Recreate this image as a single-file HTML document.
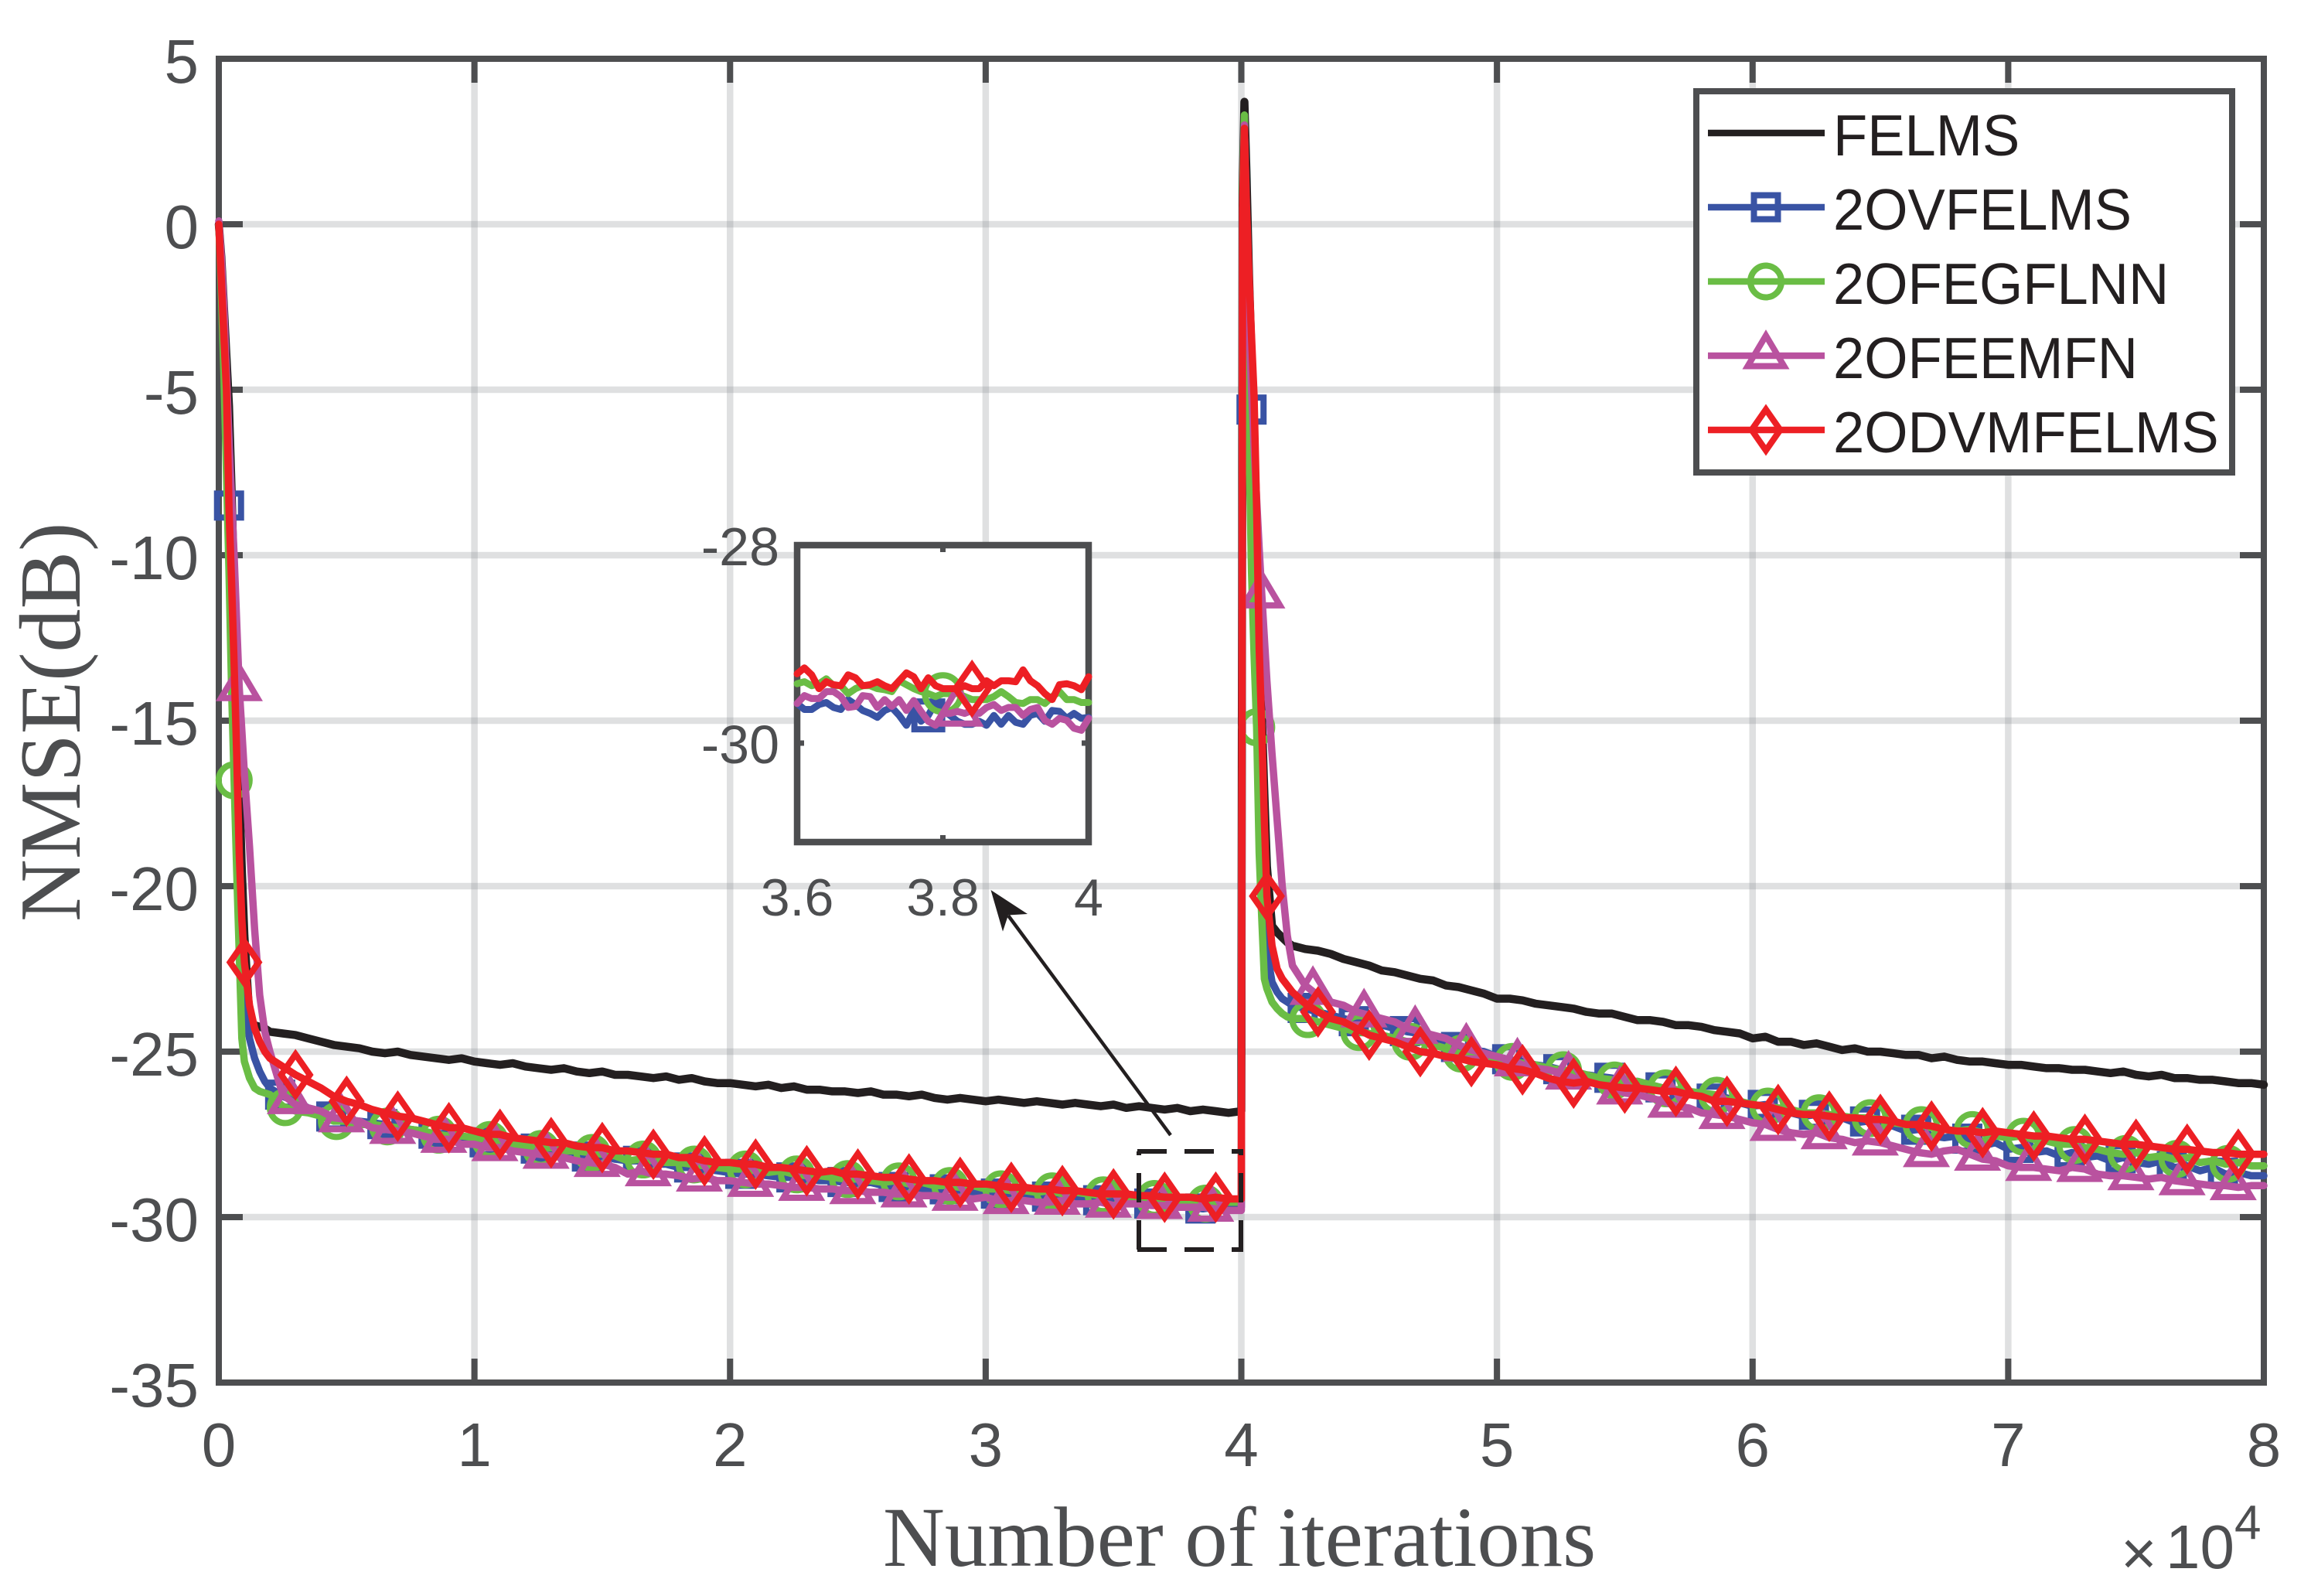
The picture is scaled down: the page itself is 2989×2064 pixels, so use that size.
<!DOCTYPE html>
<html lang="en">
<head>
<meta charset="utf-8">
<title>NMSE versus number of iterations</title>
<style>
html,body{margin:0;padding:0;background:#fff}
svg{display:block}
text{font-family:"Liberation Sans",Arial,sans-serif;fill:#4d4e50}
.serif{font-family:"Liberation Serif","Times New Roman",serif}
</style>
</head>
<body>
<svg id="chart" xmlns="http://www.w3.org/2000/svg" width="2989" height="2064" viewBox="0 0 2989 2064">
<rect x="0" y="0" width="2989" height="2064" fill="#ffffff"/>
<g id="grid"></g>
<rect x="283" y="76" width="2645" height="1712" fill="none" stroke="#4d4e50" stroke-width="8"/>
<g id="ticks"></g>
<g id="labels"></g>
<text class="serif" x="1142" y="2025" font-size="110.7">Number of iterations</text>
<text class="serif" transform="translate(103,1192) rotate(-90)" font-size="112">NMSE(dB)</text>
<g>
<text x="2743" y="2036" font-size="80">×</text>
<text x="2801" y="2028" font-size="80">10</text>
<text x="2890" y="1990" font-size="62">4</text>
</g>
<g id="series"></g>
<g id="inset"></g>
<g stroke="#231f20" stroke-width="6" stroke-dasharray="38 23" fill="none">
<line x1="1473" y1="1616" x2="1473" y2="1489"/>
<line x1="1605" y1="1616" x2="1605" y2="1489"/>
<line x1="1471" y1="1489" x2="1608" y2="1489"/>
<line x1="1471" y1="1616" x2="1608" y2="1616"/>
</g>
<g>
<line x1="1514" y1="1468" x2="1304" y2="1184" stroke="#231f20" stroke-width="4.5"/>
<polygon points="1281.5,1151 1329,1182 1304,1183.5 1297,1204.6" fill="#231f20"/>
</g>
<g id="legend"></g>
</svg>
<script>
// Shared x values, in units of 10^4 iterations
const iterations = [
0,.01,.02,.03,.04,.05,.06,.07,.08,.09,.1,.12,.14,.16,.18,.2,
.25,.3,.35,.4,.45,.5,.55,.6,.65,.7,.75,.8,.85,.9,.95,
1,1.05,1.1,1.15,1.2,1.25,1.3,1.35,1.4,1.45,1.5,1.55,1.6,1.65,1.7,
1.75,1.8,1.85,1.9,1.95,2,2.05,2.1,2.15,2.2,2.25,2.3,2.35,2.4,2.45,
2.5,2.55,2.6,2.65,2.7,2.75,2.8,2.85,2.9,2.95,3,3.05,3.1,3.15,3.2,
3.25,3.3,3.35,3.4,3.45,3.5,3.55,3.6,3.65,3.7,3.75,3.8,3.85,3.9,3.95,
4,4.005,4.012,4.02,4.03,4.04,4.05,4.06,4.07,4.08,4.09,4.1,4.12,4.14,4.16,4.18,4.2,
4.25,4.3,4.35,4.4,4.45,4.5,4.55,4.6,4.65,4.7,4.75,4.8,4.85,4.9,4.95,
5,5.05,5.1,5.15,5.2,5.25,5.3,5.35,5.4,5.45,5.5,5.55,5.6,5.65,5.7,
5.75,5.8,5.85,5.9,5.95,6,6.05,6.1,6.15,6.2,6.25,6.3,6.35,6.4,6.45,
6.5,6.55,6.6,6.65,6.7,6.75,6.8,6.85,6.9,6.95,7,7.05,7.1,7.15,7.2,
7.25,7.3,7.35,7.4,7.45,7.5,7.55,7.6,7.65,7.7,7.75,7.8,7.85,7.9,7.95,
8];

const felms = [
0,-1,-2.5,-4,-5.5,-8,-11,-14,-17,-19.5,-21.5,-24,-24.2,-24.25,-24.3,-24.4,
-24.45,-24.5,-24.6,-24.7,-24.8,-24.85,-24.9,-25,-25.05,-25,-25.1,-25.15,-25.2,-25.25,-25.2,
-25.3,-25.35,-25.4,-25.35,-25.45,-25.5,-25.55,-25.5,-25.6,-25.65,-25.6,-25.7,-25.7,-25.75,-25.8,
-25.75,-25.85,-25.8,-25.9,-25.95,-25.95,-26,-26.05,-26,-26.1,-26.05,-26.15,-26.15,-26.2,-26.2,
-26.25,-26.2,-26.3,-26.3,-26.35,-26.3,-26.4,-26.45,-26.4,-26.45,-26.5,-26.45,-26.5,-26.55,-26.5,
-26.55,-26.6,-26.55,-26.6,-26.65,-26.6,-26.7,-26.65,-26.7,-26.75,-26.7,-26.8,-26.75,-26.8,-26.85,
-26.8,1,3.7,1.6,-1.5,-4,-6.8,-9.5,-12.2,-14.8,-17.2,-19.4,-21.2,-21.4,-21.55,-21.7,-21.8,
-21.9,-21.95,-22.05,-22.2,-22.3,-22.4,-22.55,-22.6,-22.7,-22.8,-22.85,-23,-23.05,-23.15,-23.25,
-23.4,-23.4,-23.45,-23.55,-23.6,-23.65,-23.7,-23.8,-23.85,-23.85,-23.95,-24.05,-24.05,-24.1,-24.2,
-24.2,-24.25,-24.35,-24.4,-24.45,-24.6,-24.55,-24.7,-24.7,-24.8,-24.75,-24.85,-24.95,-24.9,-25,
-25,-25.05,-25.1,-25.1,-25.2,-25.15,-25.25,-25.3,-25.3,-25.35,-25.4,-25.4,-25.45,-25.5,-25.5,
-25.55,-25.55,-25.6,-25.65,-25.6,-25.7,-25.75,-25.7,-25.8,-25.8,-25.85,-25.85,-25.9,-25.95,-25.95,
-26];

const ovfelms = [
0,-1.4,-3,-5,-8.5,-11,-14,-17,-20,-22.2,-23.5,-24.6,-25.2,-25.6,-25.9,-26.1,
-26.35,-26.5,-26.7,-26.8,-27,-27.05,-27.1,-27.15,-27.2,-27.25,-27.35,-27.4,-27.5,-27.45,-27.6,
-27.7,-27.75,-27.8,-27.85,-27.85,-27.95,-28,-28,-28.05,-28.2,-28.15,-28.25,-28.3,-28.3,-28.4,
-28.4,-28.5,-28.5,-28.55,-28.6,-28.66,-28.7,-28.7,-28.75,-28.8,-28.8,-28.85,-28.9,-28.9,-28.95,
-29,-28.95,-29.05,-29.1,-29.05,-29.15,-29.2,-29.15,-29.2,-29.25,-29.25,-29.3,-29.3,-29.35,-29.3,
-29.4,-29.35,-29.45,-29.45,-29.5,-29.5,-29.55,-29.55,-29.6,-29.6,-29.65,-29.7,-29.75,-29.7,-29.7,
-29.7,0.5,3,0.5,-3,-5.6,-8.5,-12,-15.5,-18.5,-20.5,-22,-22.9,-23.2,-23.4,-23.5,-23.6,
-23.7,-23.8,-23.9,-24,-24.1,-24.15,-24.2,-24.3,-24.4,-24.45,-24.6,-24.7,-24.9,-24.95,-25,
-25.15,-25.25,-25.3,-25.4,-25.45,-25.55,-25.6,-25.7,-25.75,-25.8,-25.9,-25.9,-26,-26.1,-26.15,
-26.2,-26.3,-26.45,-26.4,-26.55,-26.65,-26.6,-26.75,-26.85,-26.95,-26.9,-27.05,-27,-27.15,-27.1,
-27.2,-27.25,-27.4,-27.35,-27.55,-27.6,-27.55,-27.65,-27.85,-27.75,-27.95,-27.9,-28.05,-28,-28.15,
-28.05,-28.2,-28.15,-28.3,-28.2,-28.35,-28.4,-28.3,-28.5,-28.45,-28.6,-28.5,-28.7,-28.65,-28.75,
-28.75];

const ofegflnn = [
0,-2,-4.5,-7.5,-10.5,-14,-16.8,-19.5,-22,-24.6,-25.3,-25.8,-26.1,-26.2,-26.25,-26.3,
-26.65,-26.8,-26.85,-26.95,-27.1,-27.1,-27.2,-27.2,-27.25,-27.3,-27.35,-27.4,-27.5,-27.55,-27.55,
-27.6,-27.65,-27.75,-27.8,-27.85,-27.95,-27.9,-28,-28,-28.05,-28.1,-28.15,-28.3,-28.25,-28.3,
-28.35,-28.35,-28.4,-28.45,-28.5,-28.55,-28.55,-28.6,-28.65,-28.6,-28.7,-28.75,-28.75,-28.8,-28.85,
-28.85,-28.9,-28.95,-28.9,-29,-28.95,-29.05,-29.05,-29.1,-29.05,-29.15,-29.15,-29.2,-29.2,-29.25,
-29.2,-29.3,-29.25,-29.3,-29.35,-29.3,-29.4,-29.4,-29.45,-29.45,-29.5,-29.55,-29.6,-29.55,-29.55,
-29.55,1,3.3,-3.5,-6.5,-10.5,-13,-15.2,-19,-21,-22.8,-23.1,-23.5,-23.7,-23.85,-23.95,-24,
-24,-24.1,-24.2,-24.3,-24.4,-24.45,-24.5,-24.6,-24.7,-24.7,-24.8,-24.9,-25.05,-25.1,-25.15,
-25.25,-25.3,-25.35,-25.4,-25.5,-25.55,-25.6,-25.7,-25.8,-25.85,-25.95,-25.9,-26,-26.1,-26.15,
-26.2,-26.25,-26.3,-26.45,-26.5,-26.6,-26.65,-26.7,-26.75,-26.85,-26.85,-26.9,-26.95,-27,-27,
-27.05,-27.15,-27.2,-27.2,-27.3,-27.35,-27.4,-27.35,-27.45,-27.55,-27.6,-27.55,-27.65,-27.7,-27.8,
-27.8,-27.9,-27.95,-28.05,-28.1,-28.05,-28.2,-28.15,-28.25,-28.2,-28.35,-28.3,-28.4,-28.35,-28.45,
-28.45];

const ofeemfn = [
0.1,-1,-2.5,-4.5,-6.5,-8.3,-10,-12,-14,-15.3,-16.6,-18.8,-21.3,-23.3,-24.4,-25,
-26.3,-26.6,-26.7,-26.8,-27,-27.05,-27.1,-27.3,-27.35,-27.4,-27.45,-27.55,-27.65,-27.65,-27.8,
-27.8,-27.9,-27.9,-28,-28.05,-28.1,-28.15,-28.2,-28.3,-28.35,-28.4,-28.5,-28.7,-28.6,-28.7,
-28.7,-28.75,-28.85,-28.8,-28.9,-28.9,-28.95,-29,-29,-29.05,-29.1,-29.1,-29.15,-29.15,-29.2,
-29.2,-29.25,-29.25,-29.3,-29.3,-29.35,-29.35,-29.4,-29.4,-29.45,-29.4,-29.5,-29.5,-29.5,-29.55,
-29.55,-29.5,-29.6,-29.6,-29.55,-29.65,-29.6,-29.6,-29.65,-29.65,-29.7,-29.7,-29.7,-29.75,-29.8,
-29.8,0.5,3,-0.8,-3,-5,-6.7,-8.3,-9.8,-11.2,-12.5,-13.8,-16,-18,-20,-21.5,-22.4,
-23,-23.3,-23.5,-23.6,-23.8,-23.9,-24,-24.1,-24.3,-24.4,-24.5,-24.6,-24.8,-24.95,-25.05,
-25.15,-25.25,-25.4,-25.5,-25.55,-25.65,-25.8,-25.9,-26,-26.1,-26.25,-26.3,-26.4,-26.5,-26.65,
-26.7,-26.85,-26.9,-26.95,-27.05,-27.15,-27.2,-27.35,-27.45,-27.5,-27.45,-27.6,-27.65,-27.75,-27.7,
-27.75,-27.85,-27.95,-28.05,-28.1,-28,-27.95,-28.1,-28.25,-28.3,-28.45,-28.5,-28.5,-28.55,-28.6,
-28.5,-28.55,-28.7,-28.75,-28.75,-28.8,-28.85,-28.8,-28.9,-28.95,-29,-29.05,-29.05,-29.1,-29.05,
-29.05];

const odvmfelms = [
0,-1.7,-3.4,-5,-8.6,-10.8,-13.3,-16,-19,-21,-22.3,-23.6,-24.3,-24.7,-25,-25.2,
-25.45,-25.7,-25.9,-26.1,-26.35,-26.5,-26.6,-26.75,-26.85,-26.95,-27,-27.1,-27.2,-27.3,-27.3,
-27.4,-27.5,-27.5,-27.6,-27.65,-27.7,-27.75,-27.75,-27.85,-27.9,-27.9,-28,-28,-28.05,-28.1,
-28.1,-28.2,-28.2,-28.3,-28.35,-28.35,-28.4,-28.4,-28.5,-28.5,-28.55,-28.6,-28.65,-28.6,-28.7,
-28.7,-28.75,-28.8,-28.8,-28.85,-28.9,-28.9,-28.95,-28.95,-29,-29,-29.05,-29.1,-29.1,-29.15,
-29.15,-29.2,-29.2,-29.25,-29.3,-29.3,-29.3,-29.35,-29.35,-29.4,-29.4,-29.4,-29.45,-29.4,-29.45,
-29.45,0.5,2.9,0.6,-1.5,-3.4,-5.2,-8.6,-12.8,-15.3,-18,-20.3,-21.8,-22.5,-22.8,-23,-23.2,
-23.55,-23.8,-24,-24.1,-24.3,-24.5,-24.6,-24.7,-24.85,-25,-25.05,-25.15,-25.2,-25.3,-25.35,
-25.4,-25.5,-25.55,-25.65,-25.8,-25.9,-25.95,-25.9,-26,-26.05,-26.1,-26.1,-26.15,-26.2,-26.2,
-26.3,-26.35,-26.5,-26.5,-26.55,-26.6,-26.65,-26.75,-26.85,-26.9,-26.9,-26.95,-27,-27,-27.05,
-27.05,-27.1,-27.2,-27.2,-27.25,-27.35,-27.4,-27.4,-27.45,-27.4,-27.45,-27.5,-27.55,-27.55,-27.6,
-27.65,-27.65,-27.7,-27.75,-27.8,-27.8,-27.85,-27.9,-27.95,-27.95,-28,-28.05,-28.05,-28.1,-28.1,
-28.1];

// Inset: close-up of 3.6–4 (×10^4 iterations)
const insetIterations = [
3.6,3.61,3.62,3.63,3.64,3.65,3.66,3.67,3.68,3.69,
3.7,3.71,3.72,3.73,3.74,3.75,3.76,3.77,3.78,3.79,
3.8,3.81,3.82,3.83,3.84,3.85,3.86,3.87,3.88,3.89,
3.9,3.91,3.92,3.93,3.94,3.95,3.96,3.97,3.98,3.99,4];
const insetOvfelms = [
-29.60,-29.66,-29.66,-29.61,-29.59,-29.64,-29.66,-29.56,-29.61,-29.67,
-29.70,-29.74,-29.67,-29.64,-29.72,-29.82,-29.67,-29.78,-29.72,-29.59,
-29.67,-29.72,-29.78,-29.81,-29.81,-29.78,-29.82,-29.72,-29.81,-29.72,
-29.79,-29.81,-29.72,-29.70,-29.78,-29.67,-29.68,-29.75,-29.70,-29.75,-29.74];
const insetOfegflnn = [
-29.40,-29.38,-29.42,-29.40,-29.35,-29.42,-29.42,-29.50,-29.45,-29.42,
-29.42,-29.45,-29.46,-29.48,-29.37,-29.41,-29.45,-29.48,-29.50,-29.53,
-29.50,-29.50,-29.50,-29.53,-29.56,-29.56,-29.56,-29.53,-29.48,-29.53,
-29.59,-29.60,-29.56,-29.56,-29.60,-29.53,-29.48,-29.56,-29.56,-29.59,-29.59];
const insetOfeemfn = [
-29.60,-29.52,-29.55,-29.55,-29.48,-29.48,-29.53,-29.64,-29.63,-29.52,
-29.53,-29.64,-29.56,-29.63,-29.56,-29.67,-29.57,-29.68,-29.78,-29.82,
-29.70,-29.70,-29.68,-29.70,-29.67,-29.70,-29.64,-29.61,-29.67,-29.64,
-29.64,-29.72,-29.66,-29.64,-29.77,-29.81,-29.75,-29.77,-29.85,-29.87,-29.75];
const insetOdvmfelms = [
-29.30,-29.24,-29.31,-29.45,-29.38,-29.41,-29.42,-29.31,-29.34,-29.42,
-29.41,-29.38,-29.42,-29.45,-29.37,-29.29,-29.33,-29.45,-29.34,-29.42,
-29.45,-29.45,-29.45,-29.42,-29.45,-29.45,-29.37,-29.42,-29.37,-29.37,
-29.38,-29.26,-29.37,-29.42,-29.50,-29.56,-29.41,-29.40,-29.42,-29.46,-29.33];

// Tick labels
const xTickValues = [0,1,2,3,4,5,6,7,8];
const yTickValues = [5,0,-5,-10,-15,-20,-25,-30,-35];
const insetXTicks = [3.6,3.8,4];
const insetYTicks = [-28,-30];
const insetYTickMarks = [-30];
const seriesNames = ["FELMS","2OVFELMS","2OFEGFLNN","2OFEEMFN","2ODVMFELMS"];
const seriesColors = ["#231f20","#3953a4","#6abd45","#b9529f","#ed1f24"];
const markerKinds = ["none","square","circle","triangle","diamond"];
const markerOffsets = [0,.04,.06,.08,.1];
const insetMarkerAt = [0,3.78,3.80,3.82,3.84];

const NS = "http://www.w3.org/2000/svg";
const X0 = 283, X1 = 2928, Y0 = 76, Y1 = 1788;
const xScale = v => X0 + (v - 0) / 8 * (X1 - X0);
const yScale = v => Y0 + (5 - v) / 40 * (Y1 - Y0);
const insetX = v => 1031 + (v - 3.6) / 0.4 * 377;
const insetY = v => 705 + (-28 - v) / 3 * 384;

function make(parent, tag, attrs, txt) {
  const e = document.createElementNS(NS, tag);
  for (const k in attrs) e.setAttribute(k, attrs[k]);
  if (txt !== undefined) e.textContent = txt;
  parent.appendChild(e);
  return e;
}
function valueAt(xs, ys, x) {
  for (let i = 1; i < xs.length; i++) {
    if (x <= xs[i]) {
      const t = (x - xs[i - 1]) / (xs[i] - xs[i - 1]);
      return ys[i - 1] + t * (ys[i] - ys[i - 1]);
    }
  }
  return ys[ys.length - 1];
}
function drawMarker(parent, kind, cx, cy, color, sw, k) {
  let e = null;
  const base = {fill: "none", stroke: color, "stroke-width": sw, "stroke-linejoin": "miter", "stroke-miterlimit": 10};
  if (kind === "square") {
    const h = 15.5 * k;
    e = make(parent, "rect", Object.assign({x: cx - h, y: cy - h, width: 2 * h, height: 2 * h}, base));
  } else if (kind === "circle") {
    e = make(parent, "ellipse", Object.assign({cx: cx, cy: cy, rx: 20 * k, ry: 20.5 * k}, base));
  } else if (kind === "triangle") {
    const p = [[0, -26], [23.5, 13.5], [-23.5, 13.5]].map(q => (cx + q[0] * k) + "," + (cy + q[1] * k)).join(" ");
    e = make(parent, "polygon", Object.assign({points: p}, base));
  } else if (kind === "diamond") {
    const p = [[0, -26.5], [18.5, 0], [0, 26.5], [-18.5, 0]].map(q => (cx + q[0] * k) + "," + (cy + q[1] * k)).join(" ");
    e = make(parent, "polygon", Object.assign({points: p}, base));
  }
  return e;
}

// Grid, ticks, labels
const gridG = document.getElementById("grid");
const tickG = document.getElementById("ticks");
const labelG = document.getElementById("labels");
xTickValues.forEach(v => {
  const x = xScale(v);
  if (v !== 0 && v !== 8) {
    const g = make(gridG, "line", {x1: x, x2: x, y1: Y0, y2: Y1, stroke: "#8a8c90", "stroke-opacity": .27, "stroke-width": 8.5});
    
    
    const a = make(tickG, "line", {x1: x, x2: x, y1: Y0, y2: Y0 + 31, stroke: "#4d4e50", "stroke-width": 8});
    
    
    const b = make(tickG, "line", {x1: x, x2: x, y1: Y1, y2: Y1 - 31, stroke: "#4d4e50", "stroke-width": 8});
    
    
  }
  const t = make(labelG, "text", {x: x, y: 1896, "font-size": 80, "text-anchor": "middle"}, String(v));
  
  
});
yTickValues.forEach(v => {
  const y = yScale(v);
  if (v !== 5 && v !== -35) {
    const g = make(gridG, "line", {x1: X0, x2: X1, y1: y, y2: y, stroke: "#8a8c90", "stroke-opacity": .27, "stroke-width": 8.5});
    
    
    const a = make(tickG, "line", {x1: X0, x2: X0 + 31, y1: y, y2: y, stroke: "#4d4e50", "stroke-width": 8});
    
    
    const b = make(tickG, "line", {x1: X1, x2: X1 - 31, y1: y, y2: y, stroke: "#4d4e50", "stroke-width": 8});
    
    
  }
  const t = make(labelG, "text", {x: 257, y: y + 31, "font-size": 80, "text-anchor": "end"}, String(v));
  
  
});

// Main series
const seriesData = [felms, ovfelms, ofegflnn, ofeemfn, odvmfelms];
const seriesG = document.getElementById("series");
seriesData.forEach((ys, s) => {
  const pts = iterations.map((x, i) => xScale(x).toFixed(1) + "," + yScale(ys[i]).toFixed(1)).join(" ");
  const line = make(seriesG, "polyline", {points: pts, fill: "none", stroke: seriesColors[s], "stroke-width": s === 0 ? 10.5 : 9.5, "stroke-linejoin": "round", "stroke-linecap": "round"});
  
  
  if (markerKinds[s] !== "none") {
    for (let k = 0; k < 40; k++) {
      const mx = markerOffsets[s] + k * 0.2;
      const m = drawMarker(seriesG, markerKinds[s], xScale(mx), yScale(valueAt(iterations, ys, mx)), seriesColors[s], 8, 1);
      
      
    }
  }
});

// Inset
const insetG = document.getElementById("inset");
const insetBg = make(insetG, "rect", {x: 1031, y: 705, width: 377, height: 384, fill: "#ffffff", stroke: "#4d4e50", "stroke-width": 8.5});


const tickMid = make(insetG, "line", {x1: insetX(3.8), x2: insetX(3.8), y1: 705, y2: 714, stroke: "#4d4e50", "stroke-width": 7});


const tickMidB = make(insetG, "line", {x1: insetX(3.8), x2: insetX(3.8), y1: 1089, y2: 1080, stroke: "#4d4e50", "stroke-width": 7});


insetYTickMarks.forEach(v => {
  const a = make(insetG, "line", {x1: 1031, x2: 1040, y1: insetY(v), y2: insetY(v), stroke: "#4d4e50", "stroke-width": 7});
  
  
  const b = make(insetG, "line", {x1: 1408, x2: 1399, y1: insetY(v), y2: insetY(v), stroke: "#4d4e50", "stroke-width": 7});
  
  
});
insetXTicks.forEach(v => {
  const t = make(insetG, "text", {x: insetX(v), y: 1184, "font-size": 68, "text-anchor": "middle"}, String(v));
  
  
});
insetYTicks.forEach(v => {
  const t = make(insetG, "text", {x: 1008, y: insetY(v) + 26, "font-size": 70, "text-anchor": "end"}, String(v));
  
  
});
const insetData = [null, insetOvfelms, insetOfegflnn, insetOfeemfn, insetOdvmfelms];
insetData.forEach((ys, s) => {
  if (!ys) return;
  const pts = insetIterations.map((x, i) => insetX(x).toFixed(1) + "," + insetY(ys[i]).toFixed(1)).join(" ");
  const line = make(insetG, "polyline", {points: pts, fill: "none", stroke: seriesColors[s], "stroke-width": 9, "stroke-linejoin": "round", "stroke-linecap": "round"});
  
  
  const mx = insetMarkerAt[s];
  const m = drawMarker(insetG, markerKinds[s], insetX(mx), insetY(valueAt(insetIterations, ys, mx)), seriesColors[s], 8, 1.16);
  
  
});

// Legend
const legendG = document.getElementById("legend");
const legendBox = make(legendG, "rect", {x: 2194, y: 118, width: 693, height: 493, fill: "#ffffff", stroke: "#4d4e50", "stroke-width": 8});


seriesNames.forEach((name, i) => {
  const y = 172 + 96 * i;
  const entry = make(legendG, "g", {});
  
  
  const l = make(entry, "line", {x1: 2209, x2: 2360, y1: y, y2: y, stroke: seriesColors[i], "stroke-width": 8.5});
  
  
  const m = drawMarker(entry, markerKinds[i], 2284, y, seriesColors[i], 8, 1);
  if (m) {
    
    
  }
  const t = make(entry, "text", {transform: "translate(2371," + (y + 29) + ") scale(.965,1)", "font-size": 75, style: "fill:#231f20"}, name);
  
  
});
</script>
</body>
</html>
